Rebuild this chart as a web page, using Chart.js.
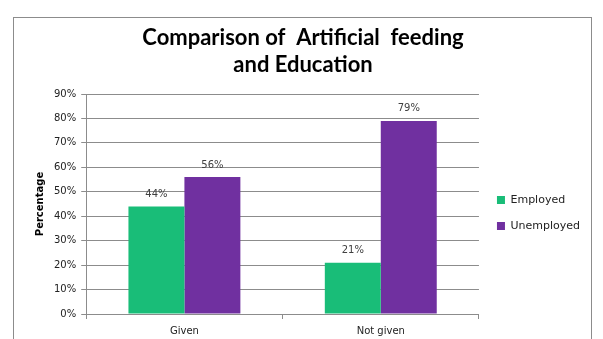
<!DOCTYPE html>
<html>
<head>
<meta charset="utf-8">
<script src="https://cdn.jsdelivr.net/npm/chart.js@4/dist/chart.umd.min.js"></script>
<style>
  html, body { margin: 0; padding: 0; background: #fff; }
</style>
</head>
<body>
<canvas id="feedingChart" width="603" height="339"></canvas>
<script>
// chart data
var categories = ["Given", "Not given"];
var employed = [44, 21];
var unemployed = [56, 79];
var yTicks = [0, 10, 20, 30, 40, 50, 60, 70, 80, 90];

// outer frame like the spreadsheet chart border
var framePlugin = {
    id: "frame",
    beforeDraw: function(chart) {
        var c = chart.ctx;
        c.save();
        c.fillStyle = "#fff";
        c.fillRect(0, 0, chart.width, chart.height);
        c.strokeStyle = "#8c8c8c";
        c.lineWidth = 1;
        c.strokeRect(13.5, 17.5, 578, 340);
        c.restore();
    }
};

// nudge the legend a bit right and down, next to the plot like the original
var legendShift = {
    id: "legendShift",
    afterLayout: function(chart) {
        var lg = chart.legend;
        var area = chart.chartArea;
        var mid = (area.top + area.bottom) / 2 + 9;
        var dy = mid - (lg.top + lg.bottom) / 2;
        lg.top += dy;
        lg.bottom += dy;
        lg.left += 3;
        lg.right += 3;
    }
};

// value labels on top of each bar
var valueLabels = {
    id: "valueLabels",
    afterDatasetsDraw: function(chart) {
        var c = chart.ctx;
        c.save();
        c.font = "10px 'DejaVu Sans'";
        c.fillStyle = "#404040";
        c.textAlign = "center";
        c.textBaseline = "bottom";
        chart.data.datasets.forEach(function(ds, i) {
            var meta = chart.getDatasetMeta(i);
            meta.data.forEach(function(bar, j) {
                c.fillText(ds.data[j] + "%", bar.x, bar.y - 7);
            });
        });
        c.restore();
    }
};

var ctx = document.getElementById("feedingChart");

var chartData = {
    labels: categories,
    datasets: [{
        label: "Employed",
        data: employed,
        backgroundColor: "#19bd78",
        categoryPercentage: 0.57,
        barPercentage: 1.0
    }, {
        label: "Unemployed",
        data: unemployed,
        backgroundColor: "#7030a0",
        categoryPercentage: 0.57,
        barPercentage: 1.0
    }]
};

var config = {
    type: "bar",
    data: chartData,
    options: {
        responsive: false,
        animation: false,
        devicePixelRatio: 1,
        layout: { padding: { left: 19, right: 16, top: 4, bottom: -4 } },
        plugins: {
            title: {
                display: true,
                text: ["Comparison of  Artificial  feeding", "and Education"],
                font: { family: "Lato", size: 22, weight: "bold", lineHeight: 1.25 },
                color: "#000",
                padding: { top: 20, bottom: 15 }
            },
            legend: {
                position: "right",
                align: "center",
                labels: {
                    boxWidth: 8,
                    boxHeight: 8,
                    padding: 15,
                    color: "#222",
                    font: { family: "DejaVu Sans", size: 11 }
                }
            },
            tooltip: { enabled: false }
        },
        scales: {
            x: {
                grid: {
                    offset: true,
                    drawOnChartArea: false,
                    drawTicks: true,
                    tickLength: 5,
                    color: "#8c8c8c"
                },
                border: { color: "#8c8c8c" },
                ticks: {
                    color: "#222",
                    font: { family: "DejaVu Sans", size: 10 },
                    padding: 6
                }
            },
            y: {
                min: 0,
                max: 90,
                afterBuildTicks: function(axis) {
                    axis.ticks = yTicks.map(function(v) { return { value: v }; });
                },
                grid: {
                    color: "#8c8c8c",
                    tickLength: 5
                },
                border: { color: "#8c8c8c" },
                ticks: {
                    color: "#222",
                    font: { family: "DejaVu Sans", size: 10 },
                    padding: 5,
                    callback: function(v) { return v + "%"; }
                },
                title: {
                    display: true,
                    text: "Percentage",
                    color: "#000",
                    font: { family: "DejaVu Sans", size: 10, weight: "bold" },
                    padding: { top: 15, bottom: 3 }
                }
            }
        }
    },
    plugins: [framePlugin, legendShift, valueLabels]
};

var barChart = new Chart(ctx, config);
</script>
</body>
</html>
